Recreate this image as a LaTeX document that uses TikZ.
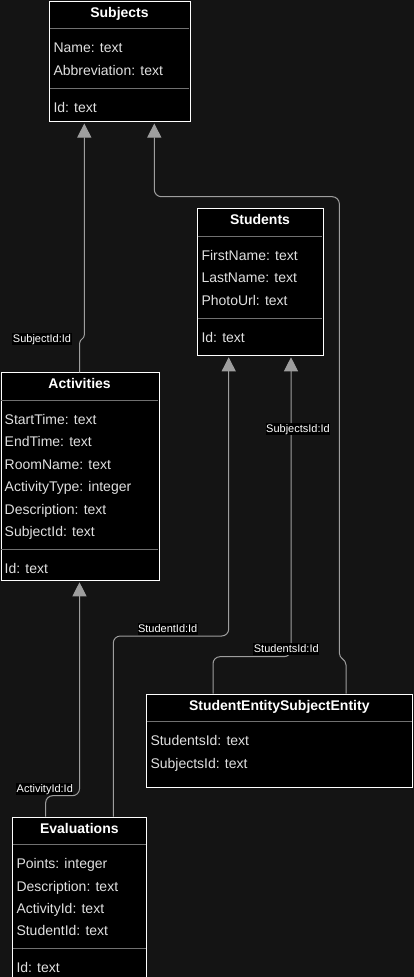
\documentclass[tikz,border=0pt]{standalone}
\usepackage{fontspec}
\setmainfont{Liberation Sans}
\usetikzlibrary{arrows.meta,calc}
\definecolor{bg}{HTML}{141414}
\definecolor{linegray}{HTML}{9E9E9E}
\definecolor{divgray}{HTML}{707070}
\definecolor{fieldtext}{HTML}{E0E0E0}
\tikzset{
 box/.style={draw=white, fill=black, line width=1pt, inner sep=0pt, anchor=north west},
 ttl/.style={text=white, font=\bfseries\fontsize{14}{16}\selectfont, anchor=base, inner sep=0pt},
 fld/.style={text=fieldtext, font=\fontsize{14}{16}\selectfont, anchor=base west, inner sep=0pt},
 divline/.style={draw=divgray, line width=1pt},
 conn/.style={draw=linegray, line width=1pt, -{Triangle[length=14pt,width=14pt]}},
 lbl/.style={fill=black, text=white, font=\fontsize{11}{13}\selectfont, inner xsep=0.5pt, inner ysep=0.5pt, text height=8.5pt, text depth=2.5pt},
}
\begin{document}
\begin{tikzpicture}[x=1pt,y=-1pt]
\useasboundingbox (0,0) rectangle (414,977);
\fill[bg] (0,0) rectangle (414,977);

% Subjects
\node[box, minimum width=140.4pt, minimum height=120.6pt] (subj) at (49.3,0.7) {};
\node[ttl] (subjt) at (119.5,17.2) {Subjects};
\draw[divline] (49.8,28.3) -- (189.2,28.3);
\node[fld] (subjf1) at (53.3,52.7) {Name: text};
\node[fld] (subjf2) at (53.3,75.1) {Abbreviation: text};
\draw[divline] (49.8,88.3) -- (189.2,88.3);
\node[fld] (subjid) at (53.3,112.3) {Id: text};

% Students
\node[box, minimum width=125.4pt, minimum height=147pt] (stud) at (197.3,208.3) {};
\node[ttl] (studt) at (260,224.8) {Students};
\draw[divline] (197.8,236) -- (322.2,236);
\node[fld] (studf1) at (201.3,260.4) {FirstName: text};
\node[fld] (studf2) at (201.3,282.8) {LastName: text};
\node[fld] (studf3) at (201.3,305.2) {PhotoUrl: text};
\draw[divline] (197.8,318) -- (322.2,318);
\node[fld] (studid) at (201.3,342.5) {Id: text};

% Activities
\node[box, minimum width=158.2pt, minimum height=208pt] (act) at (0.5,372.3) {};
\node[ttl] (actt) at (79.6,388.8) {Activities};
\draw[divline] (1,400) -- (158.2,400);
\node[fld] (actf1) at (4.5,424.4) {StartTime: text};
\node[fld] (actf2) at (4.5,446.8) {EndTime: text};
\node[fld] (actf3) at (4.5,469.2) {RoomName: text};
\node[fld] (actf4) at (4.5,491.6) {ActivityType: integer};
\node[fld] (actf5) at (4.5,514) {Description: text};
\node[fld] (actf6) at (4.5,536.4) {SubjectId: text};
\draw[divline] (1,549.3) -- (158.2,549.3);
\node[fld] (actid) at (4.5,573.5) {Id: text};

% StudentEntitySubjectEntity
\node[box, minimum width=266pt, minimum height=93.6pt] (sese) at (146.3,693.7) {};
\node[ttl] (seset) at (279.3,710.2) {StudentEntitySubjectEntity};
\draw[divline] (146.8,721.3) -- (411.8,721.3);
\node[fld] (sesef1) at (150.3,745.7) {StudentsId: text};
\node[fld] (sesef2) at (150.3,768.1) {SubjectsId: text};

% Evaluations
\node[box, minimum width=134pt, minimum height=159.8pt] (eval) at (12.3,816.7) {};
\node[ttl] (evalt) at (79.3,833.2) {Evaluations};
\draw[divline] (12.8,844.3) -- (145.8,844.3);
\node[fld] (evalf1) at (16.3,868.7) {Points: integer};
\node[fld] (evalf2) at (16.3,891.1) {Description: text};
\node[fld] (evalf3) at (16.3,913.5) {ActivityId: text};
\node[fld] (evalf4) at (16.3,935.9) {StudentId: text};
\draw[divline] (12.8,948.3) -- (145.8,948.3);
\node[fld] (evalid) at (16.3,972.5) {Id: text};

% Connectors
% Activities -> Subjects
\draw[conn] ($(act.north west)+(79.2,0)$) -- (79.7,343)
  .. controls (79.7,339) and (84.3,339) .. (84.3,335)
  -- ($(subj.south west)+(35,1.2)$);
% StudentEntitySubjectEntity -> Subjects
\draw[conn] ($(sese.north west)+(199.7,0)$) -- (346,665)
  .. controls (346,659) and (339.3,659) .. (339.3,653)
  [rounded corners=7pt] -- (339.3,196.7) -- (154.3,196.7)
  -- ($(subj.south west)+(105,1.2)$);
% StudentEntitySubjectEntity -> Students
\draw[conn, rounded corners=7pt] ($(sese.north west)+(66.7,0)$) -- (213,656.7) -- (291,656.7)
  -- ($(stud.south west)+(93.7,1)$);
% Evaluations -> Students
\draw[conn, rounded corners=7pt] ($(eval.north west)+(101,0)$) -- (113.3,636) -- (228.7,636)
  -- ($(stud.south west)+(31.4,1)$);
% Evaluations -> Activities
\draw[conn, rounded corners=7pt] ($(eval.north west)+(33.4,0)$) -- (45.7,795.7) -- (79.5,795.7)
  -- ($(act.south west)+(79,1)$);

% Labels
\node[lbl] (l1) at (42,339.3) {SubjectId:Id};
\node[lbl] (l2) at (298,429) {SubjectsId:Id};
\node[lbl] (l3) at (286.3,649) {StudentsId:Id};
\node[lbl] (l4) at (167.7,629) {StudentId:Id};
\node[lbl] (l5) at (44.8,789.3) {ActivityId:Id};
\end{tikzpicture}
\end{document}
